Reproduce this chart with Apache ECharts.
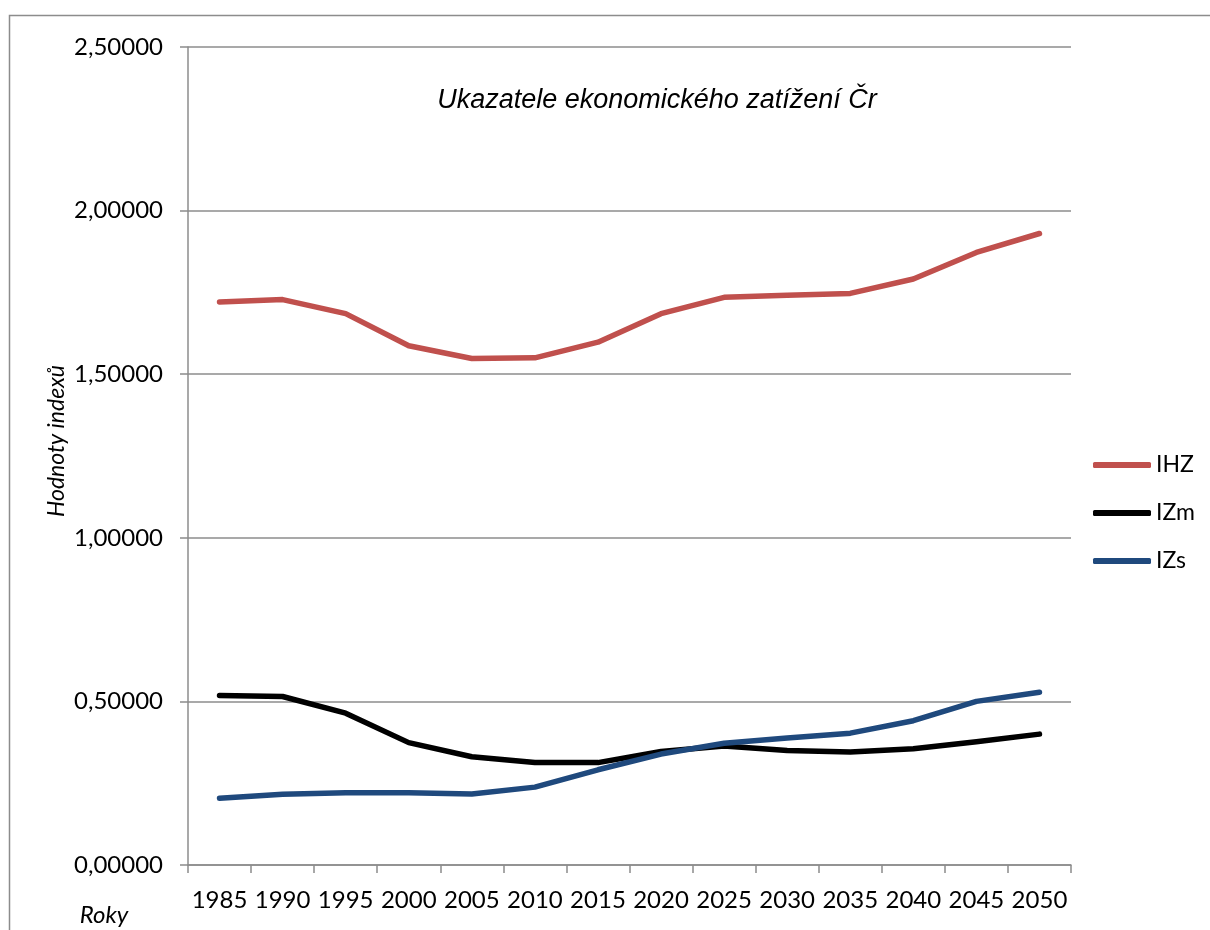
<!DOCTYPE html>
<html>
<head>
<meta charset="utf-8">
<script src="https://cdn.jsdelivr.net/npm/echarts@6/dist/echarts.min.js"></script>
<style>
  html, body { margin: 0; padding: 0; background: #fff; }
  #chart { width: 1210px; height: 930px; }
</style>
</head>
<body>
<div id="chart"></div>
<script>
// Years on the horizontal axis
const years = ['1985', '1990', '1995', '2000', '2005', '2010', '2015',
               '2020', '2025', '2030', '2035', '2040', '2045', '2050'];

// Index values per year
const ihz = [1.721, 1.728, 1.685, 1.587, 1.548, 1.550, 1.598,
             1.685, 1.735, 1.741, 1.747, 1.791, 1.872, 1.930];
const izm = [0.518, 0.515, 0.464, 0.374, 0.331, 0.313, 0.313,
             0.347, 0.364, 0.350, 0.345, 0.355, 0.377, 0.400];
const izs = [0.204, 0.216, 0.221, 0.221, 0.217, 0.238, 0.291,
             0.339, 0.372, 0.388, 0.403, 0.441, 0.500, 0.528];

// Value axis ticks
const yMin = 0, yMax = 2.5, yStep = 0.5;

const seriesNames = ['IHZ', 'IZm', 'IZs'];
const seriesColors = ['#C0504D', '#000000', '#1F497D'];

const labelFont = 'Lato, "Open Sans", sans-serif';
const gridColor = '#8c8c8c';

const chart = echarts.init(document.getElementById('chart'));

function lineSeries(name, data, color) {
  return {
    name: name,
    type: 'line',
    data: data,
    symbol: 'none',
    smooth: false,
    lineStyle: { color: color, width: 5.5, cap: 'round', join: 'round' },
    itemStyle: { color: color },
    emphasis: { disabled: true }
  };
}

chart.setOption({
  backgroundColor: '#ffffff',
  animation: false,
  grid: { left: 188, right: 139, top: 47, bottom: 65, containLabel: false },
  title: {
    text: 'Ukazatele ekonomického zatížení Čr',
    left: 652,
    top: 82,
    textAlign: 'center',
    textStyle: {
      fontFamily: '"Liberation Sans", Arial, sans-serif',
      fontStyle: 'italic',
      fontWeight: 'normal',
      fontSize: 27,
      color: '#000'
    }
  },
  legend: {
    orient: 'vertical',
    left: 1088,
    top: 446,
    itemWidth: 58,
    itemHeight: 6,
    itemGap: 20,
    icon: 'roundRect',
    data: seriesNames,
    textStyle: { fontFamily: labelFont, fontSize: 23, color: '#000', lineHeight: 28 }
  },
  xAxis: {
    type: 'category',
    data: years,
    boundaryGap: true,
    axisLine: { show: true, lineStyle: { color: gridColor, width: 1.5 } },
    axisTick: { show: true, length: 8, inside: false, alignWithLabel: false,
                lineStyle: { color: gridColor, width: 1.5 } },
    axisLabel: { interval: 0, margin: 23, fontFamily: labelFont, fontSize: 24, color: '#000' },
    splitLine: { show: false }
  },
  yAxis: {
    type: 'value',
    min: yMin,
    max: yMax,
    interval: yStep,
    axisLine: { show: true, lineStyle: { color: gridColor, width: 1.5 } },
    axisTick: { show: true, length: 8, inside: false, lineStyle: { color: gridColor, width: 1.5 } },
    axisLabel: {
      margin: 25,
      fontFamily: labelFont,
      fontSize: 24,
      color: '#000',
      formatter: v => v.toFixed(5).replace('.', ',')
    },
    splitLine: { show: true, lineStyle: { color: gridColor, width: 1.5 } }
  },
  graphic: [
    {
      type: 'rect',
      silent: true,
      shape: { x: 9.5, y: 15.5, width: 1400, height: 1200 },
      style: { fill: 'none', stroke: gridColor, lineWidth: 1.5 },
      z: -1
    },
    {
      type: 'text',
      silent: true,
      x: 57,
      y: 441,
      rotation: Math.PI / 2,
      style: {
        text: 'Hodnoty indexů',
        fontFamily: labelFont,
        fontStyle: 'italic',
        fontSize: 23,
        fill: '#000',
        align: 'center',
        verticalAlign: 'middle'
      }
    },
    {
      type: 'text',
      silent: true,
      x: 104,
      y: 915,
      style: {
        text: 'Roky',
        fontFamily: labelFont,
        fontStyle: 'italic',
        fontSize: 24,
        fill: '#000',
        align: 'center',
        verticalAlign: 'middle'
      }
    }
  ],
  series: [
    lineSeries(seriesNames[0], ihz, seriesColors[0]),
    lineSeries(seriesNames[1], izm, seriesColors[1]),
    lineSeries(seriesNames[2], izs, seriesColors[2])
  ]
});
</script>
</body>
</html>
